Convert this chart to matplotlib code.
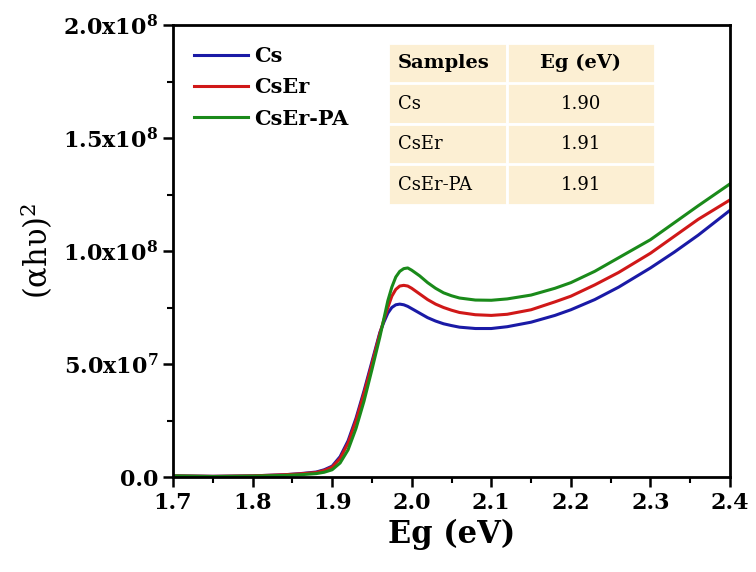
import matplotlib
matplotlib.use("Agg")
import matplotlib.pyplot as plt
from matplotlib.ticker import MultipleLocator, FixedLocator

plt.rcParams['font.family'] = ['DejaVu Serif']
plt.rcParams['mathtext.fontset'] = 'dejavuserif'
plt.rcParams['mathtext.default'] = 'bf'

# Data
x = [1.70, 1.75, 1.80, 1.84, 1.86, 1.88, 1.89, 1.90, 1.91, 1.92, 1.93, 1.94, 1.95,
     1.96, 1.965, 1.97, 1.975, 1.98, 1.985, 1.99, 1.995, 2.00, 2.01, 2.02, 2.03,
     2.04, 2.05, 2.06, 2.08, 2.10, 2.12, 2.15, 2.18, 2.20, 2.23, 2.26, 2.30,
     2.33, 2.36, 2.40]
cs = [0.5e6, 0.3e6, 0.5e6, 1.0e6, 1.5e6, 2.2e6, 3.2e6, 4.8e6, 9.0e6, 1.6e7, 2.6e7,
      3.8e7, 5.1e7, 6.4e7, 6.85e7, 7.25e7, 7.5e7, 7.62e7, 7.65e7, 7.62e7, 7.55e7,
      7.45e7, 7.25e7, 7.05e7, 6.9e7, 6.78e7, 6.7e7, 6.63e7, 6.57e7, 6.57e7, 6.65e7,
      6.85e7, 7.15e7, 7.4e7, 7.85e7, 8.4e7, 9.25e7, 9.95e7, 1.07e8, 1.18e8]
cser = [0.5e6, 0.3e6, 0.5e6, 1.0e6, 1.4e6, 2.0e6, 2.9e6, 4.4e6, 8.2e6, 1.5e7, 2.5e7,
        3.7e7, 5.0e7, 6.35e7, 6.95e7, 7.5e7, 8.0e7, 8.3e7, 8.45e7, 8.48e7, 8.45e7,
        8.35e7, 8.1e7, 7.85e7, 7.65e7, 7.5e7, 7.38e7, 7.28e7, 7.18e7, 7.15e7, 7.2e7,
        7.4e7, 7.75e7, 8.0e7, 8.5e7, 9.05e7, 9.9e7, 1.065e8, 1.14e8, 1.226e8]
cserpa = [0.5e6, 0.2e6, 0.4e6, 0.7e6, 1.0e6, 1.5e6, 2.1e6, 3.2e6, 6.2e6, 1.2e7, 2.15e7,
          3.35e7, 4.75e7, 6.2e7, 7.0e7, 7.8e7, 8.4e7, 8.85e7, 9.1e7, 9.22e7, 9.25e7,
          9.15e7, 8.9e7, 8.6e7, 8.35e7, 8.15e7, 8.02e7, 7.92e7, 7.83e7, 7.82e7, 7.88e7,
          8.05e7, 8.35e7, 8.6e7, 9.1e7, 9.7e7, 1.05e8, 1.125e8, 1.2e8, 1.297e8]

series = [("Cs", cs, "#1a1aa6"), ("CsEr", cser, "#d01818"), ("CsEr-PA", cserpa, "#1a8a1a")]

table_rows = [["Samples", "Eg (eV)"], ["Cs", "1.90"], ["CsEr", "1.91"], ["CsEr-PA", "1.91"]]

xticks = [1.7, 1.8, 1.9, 2.0, 2.1, 2.2, 2.3, 2.4]
yticks = [0.0, 5.0e7, 1.0e8, 1.5e8, 2.0e8]
ytick_labels = ["0.0", "5.0x10$^{7}$", "1.0x10$^{8}$", "1.5x10$^{8}$", "2.0x10$^{8}$"]

L, R, T, B = 173, 730, 25, 477
fig = plt.figure(figsize=(7.56, 5.72), dpi=100)
ax = fig.add_axes([L/756, 1-B/572, (R-L)/756, (B-T)/572])

for name, y, c in series:
    ax.plot(x, y, color=c, lw=2.2, label=name)

ax.set_xlim(1.7, 2.4)
ax.set_ylim(0, 2.0e8)
ax.xaxis.set_major_locator(FixedLocator(xticks))
ax.xaxis.set_minor_locator(MultipleLocator(0.05))
ax.yaxis.set_major_locator(FixedLocator(yticks))
ax.yaxis.set_minor_locator(MultipleLocator(2.5e7))
ax.set_xticklabels([f"{t:.1f}" for t in xticks], fontsize=16, fontweight='bold')
ax.set_yticklabels(ytick_labels, fontsize=16, fontweight='bold')
ax.tick_params(which='major', direction='out', length=7, width=1.8)
ax.tick_params(which='minor', direction='out', length=4, width=1.5)
ax.tick_params(top=False, right=False)
for s in ax.spines.values():
    s.set_linewidth(2)

ax.set_xlabel("Eg (eV)", fontsize=22, fontweight='bold', labelpad=4)
ax.set_ylabel("(αhυ)$^{\\mathregular{2}}$", fontsize=22, labelpad=6)

leg = ax.legend(loc='upper left', bbox_to_anchor=(0.0, 1.0), frameon=False,
                prop={'size': 15, 'weight': 'bold'}, handlelength=2.6,
                handletextpad=0.3, labelspacing=0.55, borderaxespad=0.6)

# inset table
W, H = R - L, B - T
tx0, ty0 = (388-L)/W, 1-(205-T)/H
tw, th = (655-388)/W, (205-43)/H
tbl = ax.table(cellText=table_rows, cellLoc='center',
               bbox=[tx0, ty0, tw, th], colWidths=[119, 148])
tbl.auto_set_font_size(False)
for (r, c), cell in tbl.get_celld().items():
    cell.set_facecolor("#fcefd3")
    cell.set_edgecolor("white")
    cell.set_linewidth(2)
    txt = cell.get_text()
    txt.set_fontsize(13)
    if r == 0:
        txt.set_fontweight('bold')
        txt.set_fontsize(14)
    if c == 0:
        txt.set_ha('left')
        cell.PAD = 0.08

fig.savefig("out.png", dpi=100)
